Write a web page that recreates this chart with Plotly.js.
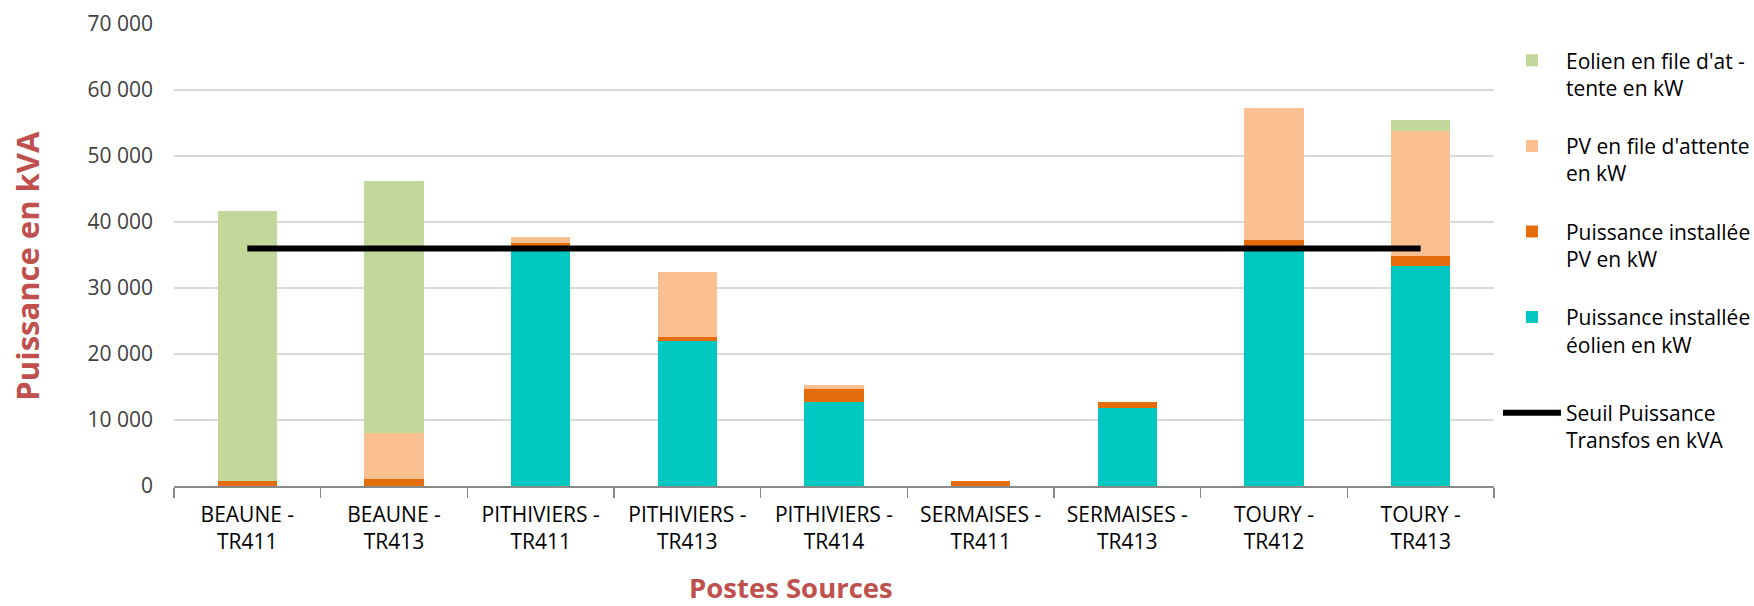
<!DOCTYPE html>
<html>
<head>
<meta charset="utf-8">
<script src="https://cdn.plot.ly/plotly-3.0.1.min.js"></script>
<style>
  html, body { margin: 0; padding: 0; background: #ffffff; }
  #chart { width: 1754px; height: 606px; }
</style>
</head>
<body>
<div id="chart"></div>
<script>
// ---- Data ----
const categories = [
  "BEAUNE -<br>TR411", "BEAUNE -<br>TR413",
  "PITHIVIERS -<br>TR411", "PITHIVIERS -<br>TR413", "PITHIVIERS -<br>TR414",
  "SERMAISES -<br>TR411", "SERMAISES -<br>TR413",
  "TOURY -<br>TR412", "TOURY -<br>TR413"
];
const eolienInstalle = [0, 0, 36300, 21900, 12800, 0, 11800, 36200, 33400];
const pvInstalle     = [700, 1000, 500, 700, 1900, 700, 1000, 1000, 1400];
const pvAttente      = [0, 7000, 1000, 9900, 650, 0, 0, 20100, 19050];
const eolienAttente  = [41000, 38150, 0, 0, 0, 0, 0, 0, 1600];
const seuilTransfos  = [36000, 36000, 36000, 36000, 36000, 36000, 36000, 36000, 36000];

const names = {
  eolienAttente: "Eolien en file d'at -<br>tente en kW",
  pvAttente: "PV en file d'attente<br>en kW",
  pvInstalle: "Puissance installée<br>PV en kW",
  eolienInstalle: "Puissance installée<br>éolien en kW",
  seuil: "Seuil Puissance<br>Transfos en kVA"
};
const yTickVals = [0, 10000, 20000, 30000, 40000, 50000, 60000, 70000];
const xTitle = "Postes Sources";
const yTitle = "Puissance en kVA";

const FONT = "'Open Sans', 'Noto Sans', sans-serif";
const TITLE_COLOR = "#C0504D";

// ---- Traces ----
const traces = [
  { type: "scatter", mode: "lines", x: categories, y: seuilTransfos, name: names.seuil,
    line: { color: "#000000", width: 6 }, legend: "legend2", hoverinfo: "y" },
  { type: "bar", x: categories, y: eolienInstalle, name: names.eolienInstalle,
    marker: { color: "#00C8C0", line: { width: 0 } }, legendrank: 4, legendgroup: "d" },
  { type: "bar", x: categories, y: pvInstalle, name: names.pvInstalle,
    marker: { color: "#E46C0A", line: { width: 0 } }, legendrank: 3, legendgroup: "c" },
  { type: "bar", x: categories, y: pvAttente, name: names.pvAttente,
    marker: { color: "#FAC090", line: { width: 0 } }, legendrank: 2, legendgroup: "b" },
  { type: "bar", x: categories, y: eolienAttente, name: names.eolienAttente,
    marker: { color: "#C4D79B", line: { width: 0 } }, legendrank: 1, legendgroup: "a" }
];

const legendCommon = {
  xanchor: "left", yanchor: "top", valign: "top", itemwidth: 58,
  font: { family: FONT, size: 21, color: "#000000" },
  bgcolor: "rgba(0,0,0,0)"
};

const layout = {
  width: 1754, height: 606,
  margin: { l: 174, r: 260, t: 24, b: 120, pad: 0, autoexpand: false },
  paper_bgcolor: "#ffffff", plot_bgcolor: "#ffffff",
  font: { family: FONT, size: 21, color: "#000000" },
  separators: ", ",
  barmode: "stack",
  bargap: 0.595,
  showlegend: true,
  legend: Object.assign({ x: 1.003, y: 0.965, traceorder: "grouped", tracegroupgap: 28 }, legendCommon),
  legend2: Object.assign({ x: 1.003, y: 0.2024 }, legendCommon),
  xaxis: {
    type: "category",
    showline: true, linecolor: "#898989", linewidth: 1.5,
    ticks: "outside", ticklen: 10, tickcolor: "#898989", tickwidth: 1.5,
    tickson: "boundaries",
    ticklabelstandoff: 9,
    showgrid: false, zeroline: false,
    tickfont: { family: FONT, size: 21, color: "#000000" }
  },
  yaxis: {
    range: [0, 70000], tickvals: yTickVals, tickformat: ",d",
    showgrid: true, gridcolor: "#D9D9D9", gridwidth: 1.5,
    showline: false, zeroline: false, ticks: "",
    ticklabelstandoff: 20,
    tickfont: { family: FONT, size: 21, color: "#404040" }
  },
  annotations: [
    { text: xTitle, xref: "paper", yref: "paper", x: 0.4674, y: 0,
      xanchor: "center", yanchor: "middle", yshift: -101, showarrow: false,
      font: { family: FONT, size: 27.5, color: TITLE_COLOR, weight: "bold" } },
    { text: yTitle, xref: "paper", yref: "paper", x: 0, y: 0.4769,
      xanchor: "center", yanchor: "middle", xshift: -147, textangle: -90, showarrow: false,
      font: { family: FONT, size: 31, color: TITLE_COLOR, weight: "bold" } }
  ]
};

Plotly.newPlot("chart", traces, layout, { staticPlot: true, displayModeBar: false });
</script>
</body>
</html>
